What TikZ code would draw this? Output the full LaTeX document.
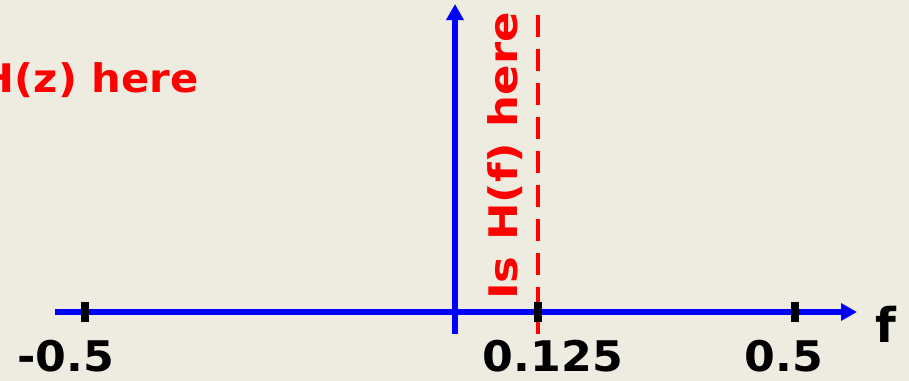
\documentclass[tikz,border=0pt]{standalone}
\usepackage{fontspec}
\setmainfont{DejaVu Sans}
\usetikzlibrary{positioning,arrows.meta}
\definecolor{paper}{HTML}{EEEBE0}
\definecolor{axisblue}{HTML}{0000FF}
\definecolor{markred}{HTML}{FF0000}
\newcommand{\widen}[2]{\scalebox{#1}[1]{#2}}
\tikzset{
  axisline/.style={line width=4pt, draw=axisblue, -{Triangle[length=0.4cm,width=0.42cm]}},
  tickmark/.style={line width=5.5pt, draw=black},
  ticklabel/.style={font=\fontsize{30}{32}\selectfont\bfseries, text=black, inner sep=0pt},
  redlabel/.style={font=\fontsize{28}{30}\selectfont\bfseries, text=markred, inner sep=0pt},
  guideline/.style={line width=3pt, draw=markred, dash pattern=on 0.55cm off 0.3cm}
}
\begin{document}
\begin{tikzpicture}[x=0.025cm, y=-0.025cm]
  \fill[paper] (0,0) rectangle (909,381);
  \useasboundingbox (0,0) rectangle (909,381);
  % axes
  \coordinate (hstart) at (55,312);
  \coordinate (hend) at (857,312);
  \coordinate (vstart) at (455,334);
  \coordinate (vend) at (455,4);
  \draw[axisline] (hstart) -- (hend);
  \draw[axisline] (vstart) -- (vend);
  % dashed marker
  \coordinate (dtop) at (538,15);
  \coordinate (dbot) at (538,334);
  \draw[guideline] (dtop) -- (dbot);
  % ticks
  \coordinate (tneg) at (85,312);
  \coordinate (tmid) at (538,312);
  \coordinate (tpos) at (795,312);
  \foreach \t in {tneg,tmid,tpos}
    \draw[tickmark] (\t) ++(0,-10) -- ++(0,20);
  \node[ticklabel] (lneg) at (66,356) {\widen{1.05}{-0.5}};
  \node[ticklabel] (lmid) at (553,356) {\widen{1.05}{0.125}};
  \node[ticklabel] (lpos) at (784,356) {\widen{1.05}{0.5}};
  \node[ticklabel, font=\fontsize{34}{36}\selectfont\bfseries] (lf) at (886,324) {f};
  % red notes
  \node[redlabel, anchor=base east] (hz) at (199,93) {\widen{1.06}{H(z) here}};
  \node[redlabel, rotate=90, anchor=base] (hf) at (517,156) {\widen{1.14}{Is H(f) here}};
\end{tikzpicture}
\end{document}
